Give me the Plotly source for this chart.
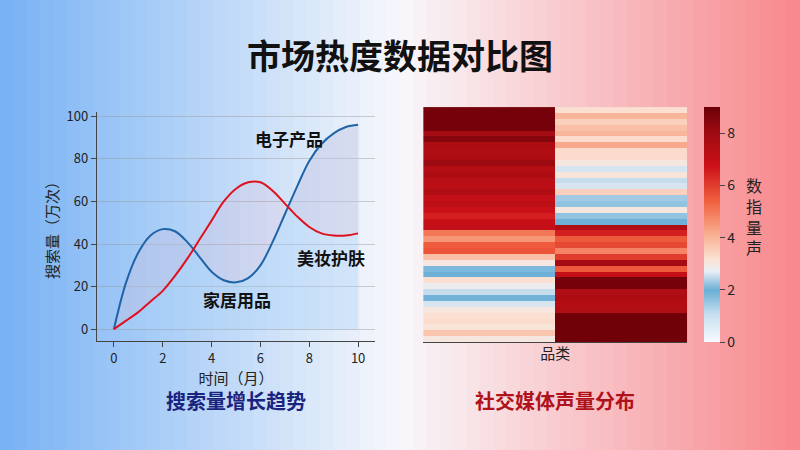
import plotly.graph_objects as go

months = [0,0.5,1,1.5,2,2.5,3,3.5,4,4.5,5,5.5,6,6.5,7,7.5,8,8.5,9,9.5,10]
electronics = [0,22,36,44,47,46,41,34,27,23,22,24,30,41,54,67,79,87,92,95,96]
beauty = [0,4,8,13,18,25,33,42,51,60,66,69,69,65,59,53,48,45,44,44,45]
col1 = [8.8,8.8,8.8,8.8,7.8,8.5,7.6,7.5,7.6,8.0,7.4,7.6,7.3,7.2,7.5,7.0,7.2,6.8,6.5,6.9,7.0,
        5.0,4.5,5.5,5.6,3.8,3.0,1.8,2.0,3.2,2.8,2.5,1.9,2.6,3.0,3.2,3.3,3.1,3.7,3.0]
col2 = [3.2,4.0,3.5,3.8,4.0,3.3,4.2,3.3,3.3,3.0,2.6,3.1,2.5,2.6,3.5,2.3,2.2,3.0,2.2,2.0,
        7.5,6.5,5.5,5.8,4.8,6.0,7.8,5.5,7.0,8.8,8.8,7.5,7.6,7.4,7.5,8.9,8.9,8.9,8.9,8.9]
rows = list(range(len(col1)))

fig = go.Figure()

n = 60
def lerp(a, b, t): return tuple(int(a[i] + (b[i]-a[i])*t) for i in range(3))
L, M, R = (60,145,240), (245,245,250), (245,85,90)
for i in range(n):
    t = (i + 0.5) / n
    c = lerp(L, M, t*2) if t < 0.5 else lerp(M, R, (t-0.5)*2)
    fig.add_shape(type="rect", xref="paper", yref="paper", x0=i/n, x1=(i+1)/n+0.002,
                  y0=0, y1=1, fillcolor="rgb(%d,%d,%d)" % c, line_width=0, layer="below")
fig.add_shape(type="rect", xref="paper", yref="paper", x0=0, x1=1, y0=0, y1=1,
              fillcolor="rgba(255,255,255,0.3)", line_width=0, layer="below")

fig.add_trace(go.Scatter(x=months, y=electronics, mode="lines", line=dict(color="#1f63a8", width=2, shape="spline"),
                         fill="tozeroy", fillcolor="rgba(170,210,245,0.35)", showlegend=False))
fig.add_trace(go.Scatter(x=months, y=beauty, mode="lines", line=dict(color="#e0101e", width=2, shape="spline"),
                         fill="tonexty", fillcolor="rgba(240,170,190,0.15)", showlegend=False))

z = [[a, b] for a, b in zip(col1, col2)]
fig.add_trace(go.Heatmap(z=z, x=["a", "b"], y=rows, xaxis="x2", yaxis="y2",
    zmin=0, zmax=9,
    colorscale=[[0, "#f7fbff"], [0.12, "#c6def0"], [0.22, "#6aaed6"], [0.3, "#e8eef5"], [0.35, "#fbe3d6"],
                [0.45, "#f9b295"], [0.6, "#f0603f"], [0.75, "#cc1018"], [0.9, "#9a0a10"], [1, "#6b0008"]],
    colorbar=dict(x=0.88, xanchor="left", xpad=0, ypad=0, y=0.501, yanchor="middle", len=0.522, thickness=16,
                  tickvals=[0,2,4,6,8], ticks="outside", outlinewidth=0,
                  tickfont=dict(size=14, color="#222"))))

fig.update_layout(
    width=800, height=450, margin=dict(l=0, r=0, t=0, b=0, autoexpand=False),
    paper_bgcolor="white", plot_bgcolor="rgba(0,0,0,0)",
    font=dict(family="Noto Sans CJK SC", color="#222"),
    xaxis=dict(domain=[0.121, 0.469], range=[-0.7, 10.7], tickvals=[0,2,4,6,8,10], ticks="outside",
               showgrid=False, zeroline=False, showline=True, linecolor="#444", automargin=False,
               tickfont=dict(size=13), title=dict(text="时间（月）", font=dict(size=15), standoff=2)),
    yaxis=dict(domain=[0.242, 0.751], range=[-5.6, 102], tickvals=[0,20,40,60,80,100], ticks="outside",
               showgrid=True, gridcolor="rgba(150,150,150,0.45)", zeroline=False, showline=True, linecolor="#444",
               automargin=False,
               tickfont=dict(size=13), title=dict(text="搜索量（万次）", font=dict(size=15), standoff=4)),
    xaxis2=dict(domain=[0.529, 0.859], anchor="y2", showticklabels=False, ticks="", showgrid=False,
                zeroline=False, showline=True, linecolor="#444", automargin=False,
                title=dict(text="品类", font=dict(size=15), standoff=6)),
    yaxis2=dict(domain=[0.24, 0.762], anchor="x2", autorange="reversed", showticklabels=False,
                showgrid=False, zeroline=False, automargin=False),
    annotations=[
        dict(text="<b>市场热度数据对比图</b>", x=0.5, y=0.878, xanchor="center", yanchor="middle", xref="paper",
             yref="paper", showarrow=False, font=dict(size=34, color="#111")),
        dict(text="<b>搜索量增长趋势</b>", x=0.295, y=0.111, xanchor="center", yanchor="middle", xref="paper",
             yref="paper", showarrow=False, font=dict(size=20, color="#1a237e")),
        dict(text="<b>社交媒体声量分布</b>", x=0.694, y=0.111, xanchor="center", yanchor="middle", xref="paper",
             yref="paper", showarrow=False, font=dict(size=20, color="#b0121b")),
        dict(text="数<br>指<br>量<br>声", x=0.942, xanchor="center", y=0.52, yanchor="middle", xref="paper",
             yref="paper", showarrow=False, font=dict(size=16, color="#222")),
        dict(text="<b>电子产品</b>", x=7.18, y=89.7, xref="x", yref="y", showarrow=False, font=dict(size=17, color="#111")),
        dict(text="<b>美妆护肤</b>", x=8.9, y=33.8, xref="x", yref="y", showarrow=False, font=dict(size=17, color="#111")),
        dict(text="<b>家居用品</b>", x=5.04, y=14, xref="x", yref="y", showarrow=False, font=dict(size=17, color="#111")),
    ])

fig.write_html("out.html", config={"displayModeBar": False},
               post_script="document.body.style.margin='0';document.body.style.overflow='hidden';")
